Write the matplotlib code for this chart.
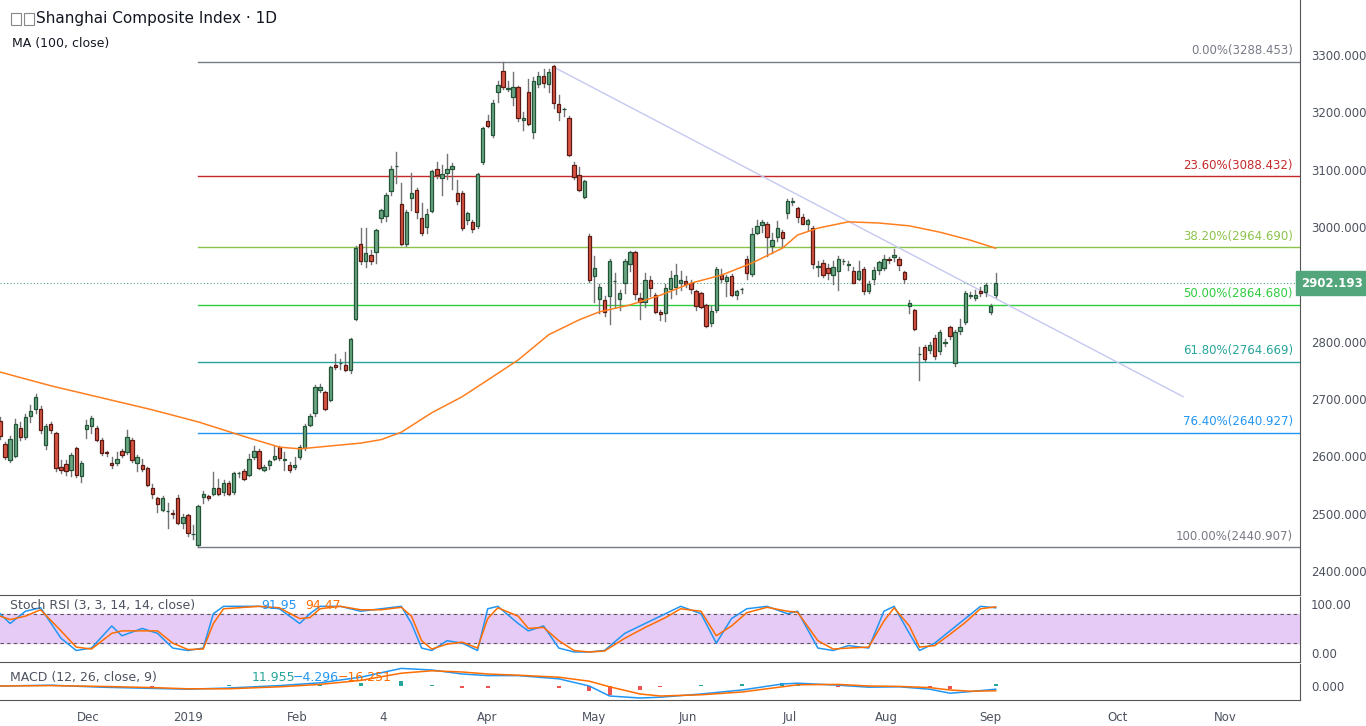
import matplotlib
matplotlib.use("Agg")
import matplotlib.pyplot as plt
from matplotlib.patches import Rectangle
import numpy as np

opens = [2662,2621,2593,2600,2649,2633,2670,2682,2683,2619,2656,2640,2581,2586,2576,2614,2565,2647,2652,2650,
 2629,2608,2589,2588,2609,2607,2628,2588,2584,2579,2544,2527,2506,2504,2500,2527,2483,2497,2464,2446,
 2529,2530,2535,2544,2538,2553,2537,2570,2574,2567,2598,2610,2576,2584,2596,2616,2594,2585,2581,2598,
 2614,2654,2675,2715,2712,2699,2760,2762,2760,2750,2839,2970,2940,2951,2956,3016,3020,3062,3106,3040,
 2970,3050,3064,3015,3000,3028,3101,3085,3095,3102,3060,3059,3013,3009,3001,3113,3185,3160,3235,3273,
 3241,3226,3244,3186,3235,3165,3250,3263,3250,3280,3214,3205,3191,3109,3091,3053,2985,2915,2874,2872,
 2879,2905,2874,2903,2935,2956,2876,2869,2907,2881,2852,2850,2891,2895,2903,2905,2902,2888,2884,2864,
 2833,2855,2917,2905,2914,2881,2891,2945,2918,2990,3004,3006,2966,2983,2992,3025,3044,3033,3017,3006,
 2999,2930,2937,2928,2916,2923,2940,2934,2923,2910,2926,2888,2909,2925,2928,2945,2947,2945,2921,2862,
 2855,2778,2790,2785,2806,2783,2798,2825,2762,2818,2835,2880,2876,2888,2886,2851,2881]
highs = [2668,2625,2636,2665,2660,2674,2690,2708,2688,2656,2660,2642,2594,2594,2606,2617,2592,2663,2670,2652,
 2632,2610,2598,2607,2612,2645,2632,2603,2596,2581,2552,2529,2530,2519,2507,2533,2500,2500,2480,2515,
 2539,2533,2573,2560,2558,2557,2572,2573,2577,2604,2618,2612,2585,2594,2618,2618,2607,2590,2598,2620,
 2656,2674,2725,2726,2714,2757,2779,2769,2782,2806,2966,2998,2998,2960,2996,3031,3059,3106,3130,3076,
 3030,3094,3068,3041,3031,3100,3114,3108,3127,3112,3082,3062,3026,3012,3094,3175,3195,3222,3255,3288,
 3254,3270,3246,3200,3258,3261,3271,3275,3276,3282,3231,3208,3193,3113,3105,3082,2987,2950,2900,2880,
 2944,2920,2890,2945,2958,2958,2885,2920,2914,2885,2855,2900,2923,2935,2923,2915,2908,2890,2886,2866,
 2862,2930,2927,2916,2918,2890,2894,2950,2998,3012,3012,3008,2990,3010,2995,3048,3051,3035,3022,3014,
 3001,2940,2942,2935,2940,2950,2944,2940,2930,2940,2930,2905,2930,2940,2952,2948,2962,2947,2923,2872,
 2857,2790,2794,2800,2812,2820,2804,2828,2821,2840,2888,2886,2890,2895,2902,2866,2920]
lows = [2630,2595,2590,2598,2628,2630,2660,2676,2640,2612,2640,2575,2570,2568,2566,2563,2556,2632,2640,2626,
 2602,2600,2580,2584,2598,2604,2590,2575,2575,2548,2527,2503,2504,2475,2492,2482,2475,2461,2455,2441,
 2518,2524,2532,2533,2533,2532,2535,2564,2558,2565,2596,2577,2574,2578,2594,2594,2576,2573,2578,2596,
 2611,2652,2671,2712,2680,2697,2752,2752,2748,2745,2838,2935,2930,2936,2938,3009,3011,3055,3077,2968,
 2967,3030,3016,2986,2990,3026,3086,3056,3083,3066,3040,2995,3005,2992,2999,3110,3175,3157,3218,3240,
 3238,3212,3185,3170,3178,3156,3245,3245,3236,3208,3186,3193,3123,3084,3063,3050,2904,2870,2850,2845,
 2830,2860,2856,2885,2924,2875,2840,2860,2880,2850,2838,2836,2877,2883,2890,2895,2885,2856,2858,2825,
 2828,2852,2904,2880,2880,2875,2885,2910,2915,2988,2992,2950,2955,2975,2965,3016,3038,3008,3005,2995,
 2928,2915,2913,2910,2900,2890,2935,2925,2902,2908,2883,2885,2900,2918,2925,2938,2940,2925,2903,2850,
 2820,2733,2766,2780,2770,2778,2792,2805,2757,2813,2830,2876,2872,2880,2880,2848,2878]
closes = [2636,2599,2631,2656,2633,2668,2679,2703,2646,2652,2646,2579,2576,2574,2602,2567,2588,2654,2666,2629,
 2605,2605,2585,2595,2602,2634,2593,2598,2577,2550,2535,2517,2527,2504,2499,2483,2494,2466,2464,2514,
 2534,2527,2544,2535,2553,2535,2570,2570,2560,2596,2610,2579,2581,2591,2601,2597,2594,2576,2584,2617,
 2653,2671,2721,2720,2682,2755,2755,2762,2751,2804,2963,2941,2954,2941,2994,3029,3055,3102,3107,2970,
 3027,3060,3027,2990,3022,3097,3091,3092,3102,3106,3045,2998,3024,2996,3092,3172,3177,3217,3248,3245,
 3241,3244,3191,3190,3179,3254,3264,3252,3271,3216,3200,3205,3125,3087,3064,3080,2907,2928,2895,2851,
 2941,2905,2884,2941,2956,2883,2870,2908,2893,2852,2848,2893,2911,2916,2907,2900,2891,2862,2861,2828,
 2853,2926,2909,2913,2882,2888,2891,2919,2987,3002,3008,2982,2977,2998,2980,3046,3044,3017,3006,3012,
 2935,2930,2916,2919,2931,2944,2940,2934,2902,2924,2888,2900,2925,2939,2945,2942,2952,2933,2909,2868,
 2822,2778,2769,2795,2775,2816,2798,2809,2816,2825,2884,2880,2881,2884,2898,2863,2902.193]

ma_idx = [0,10,20,30,39,49,55,59,65,71,75,79,85,91,96,102,108,114,118,124,130,136,142,148,154,157,161,167,173,179,185,191,196]
ma_val = [2747,2723,2702,2681,2660,2632,2616,2613,2618,2623,2629,2642,2676,2704,2733,2768,2812,2838,2852,2864,2881,2902,2916,2937,2963,2986,2998,3009,3007,3002,2991,2977,2963]

fib_pct = ["0.00", "23.60", "38.20", "50.00", "61.80", "76.40", "100.00"]
fib_val = [3288.453, 3088.432, 2964.690, 2864.680, 2764.669, 2640.927, 2440.907]
fib_col = ["#787b86", "#c62828", "#8bc34a", "#2ecc40", "#26a69a", "#2196f3", "#787b86"]

rsi_idx = [0,2,5,8,12,15,18,22,24,28,31,34,37,40,42,44,51,55,59,61,63,67,71,75,79,81,83,85,88,91,94,96,
           98,102,104,107,110,113,116,119,123,127,131,134,138,141,144,147,151,155,157,161,164,167,171,174,176,179,181,184,187,190,193,196]
rsi_k = [80,60,85,92,30,5,10,55,35,50,40,10,5,10,80,95,95,90,60,80,95,95,85,90,95,60,10,5,25,20,5,90,
         95,60,45,55,10,2,2,5,40,60,80,95,80,20,70,90,95,80,85,10,5,15,10,85,95,40,5,20,45,70,95,92]
rsi_d = [75,68,75,88,45,12,8,40,45,45,45,20,7,8,60,90,95,92,70,72,90,95,88,88,93,75,25,8,18,22,10,70,
         92,75,50,52,25,5,2,4,30,52,72,90,85,35,55,82,93,85,83,25,8,10,12,65,92,55,12,15,38,62,90,94]

macd_idx = [0,10,20,30,37,45,55,63,71,79,85,91,96,102,110,116,120,126,130,138,146,154,157,165,171,177,183,187,191,196]
macd_line = [0,2,-3,-6,-8,-5,1,8,22,44,40,30,26,26,18,0,-25,-30,-28,-20,-10,5,7,2,-3,-2,-8,-18,-14,-8]
macd_sig = [0,1,-1,-4,-7,-7,-2,4,14,32,38,35,30,27,22,12,-2,-20,-25,-22,-15,-2,3,4,0,-1,-4,-10,-13,-12]

tick_pos = [17.3, 37, 58.5, 75.4, 95.9, 116.9, 135.4, 155.5, 174.4, 194.9, 219.9, 241.3]
tick_lab = ["Dec", "2019", "Feb", "4", "Apr", "May", "Jun", "Jul", "Aug", "Sep", "Oct", "Nov"]

XMAX = 1300 / 5.08
TXT = "#4c525e"
fig = plt.figure(figsize=(13.66, 7.26), dpi=100)
W = 1300 / 1366
ax = fig.add_axes([0, 131/726, W, 595/726])
ax2 = fig.add_axes([0, 64/726, W, 65/726])
ax3 = fig.add_axes([0, 26/726, W, 36/726])

for a in (ax, ax2, ax3):
    a.set_xlim(0, XMAX)
    a.yaxis.tick_right()
    a.tick_params(axis="y", length=0, labelsize=8.5, labelcolor=TXT, pad=8)
    a.tick_params(axis="x", length=0)
    a.set_xticks(tick_pos)
    a.set_xticklabels([])
    for s in a.spines.values():
        s.set_visible(False)
    a.spines["right"].set_visible(True)
    a.spines["right"].set_color("#555")
    a.spines["bottom"].set_visible(True)
    a.spines["bottom"].set_color("#555")
ax3.set_xticklabels(tick_lab)
ax3.tick_params(axis="x", labelsize=8.5, labelcolor=TXT, pad=8)

# price panel
ax.set_ylim(2358, 3396)
yt = list(range(2400, 3301, 100))
ax.set_yticks(yt)
ax.set_yticklabels(["" if v == 2900 else f"{v}.000" for v in yt])
for i in range(len(closes)):
    o, h, l, c = opens[i], highs[i], lows[i], closes[i]
    up = c >= o
    ax.plot([i, i], [l, h], color="#737375", lw=1, zorder=2)
    ax.add_patch(Rectangle((i - 0.33, min(o, c)), 0.66, max(abs(c - o), 1.2),
                           facecolor="#6ba583" if up else "#d75442",
                           edgecolor="#225437" if up else "#5b1a13", lw=0.9, zorder=3))
ax.plot(ma_idx, ma_val, color="#ff7f1f", lw=1.1, zorder=4)
for p, v, col in zip(fib_pct, fib_val, fib_col):
    ax.plot([39, XMAX], [v, v], color=col, lw=1, zorder=1)
    ax.text(254.5, v + 8, f"{p}%({v:.3f})", color=col, fontsize=8.5, ha="right", va="bottom")
ax.plot([109, 232.9], [3279, 2704], color="#c5c8f0", lw=1, zorder=1)
last = closes[-1]
ax.axhline(last, color="#53a57b", lw=0.8, ls=(0, (1, 2)), zorder=1)
ax.text(1.001, last, f"{last:.3f}", transform=ax.get_yaxis_transform(), fontsize=8.5, color="white",
        fontweight="bold", va="center", ha="left",
        bbox=dict(boxstyle="square,pad=0.45", fc="#53a57b", ec="#53a57b"))
fig.text(36/1366, 1 - 19/726, "Shanghai Composite Index · 1D", fontsize=11, color="#131722", va="center")
fig.text(12/1366, 1 - 44/726, "MA (100, close)", fontsize=9, color="#131722", va="center")
for bx in (11, 24):
    fig.patches.append(Rectangle((bx/1366, 1 - 25/726), 10/1366, 12/726, transform=fig.transFigure,
                                 fill=False, ec="#888", lw=0.8))

# RSI
ax2.set_ylim(-18.4, 114)
ax2.set_yticks([0, 100]); ax2.set_yticklabels(["0.00", "100.00"])
ax2.axhspan(20, 80, color="#e6cbf7", zorder=0)
ax2.axhline(80, color="#555", lw=0.8, ls=(0, (3, 3)))
ax2.axhline(20, color="#555", lw=0.8, ls=(0, (3, 3)))
ax2.plot(rsi_idx, rsi_k, color="#2196f3", lw=1.1)
ax2.plot(rsi_idx, rsi_d, color="#ff6d00", lw=1.1)
ax2.text(2, 97, "Stoch RSI (3, 3, 14, 14, close)", fontsize=9, color=TXT, va="center")
ax2.text(51.5, 97, "91.95", fontsize=9, color="#2196f3", va="center")
ax2.text(60, 97, "94.47", fontsize=9, color="#ff6d00", va="center")

# MACD
ax3.set_ylim(-35, 55)
ax3.set_yticks([0]); ax3.set_yticklabels(["0.000"])
hist = [m - s for m, s in zip(macd_line, macd_sig)]
ax3.bar(macd_idx, hist, width=0.8, color=["#26a69a" if h >= 0 else "#ef5350" for h in hist])
ax3.plot(macd_idx, macd_line, color="#2196f3", lw=1.1)
ax3.plot(macd_idx, macd_sig, color="#ff6d00", lw=1.1)
ax3.text(2, 22, "MACD (12, 26, close, 9)", fontsize=9, color=TXT, va="center")
ax3.text(49.6, 22, "11.955", fontsize=9, color="#26a69a", va="center")
ax3.text(57.7, 22, "\u22124.296", fontsize=9, color="#2196f3", va="center")
ax3.text(66.5, 22, "\u221216.251", fontsize=9, color="#ff6d00", va="center")

fig.savefig("out.png", dpi=100, facecolor="white")
